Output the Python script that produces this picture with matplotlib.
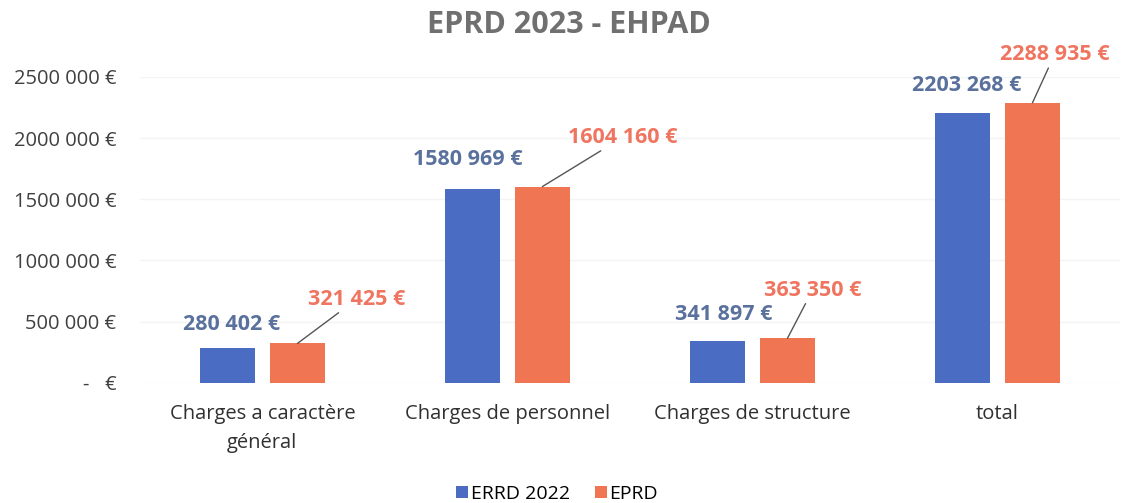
import numpy as np
import matplotlib
matplotlib.use("Agg")
import matplotlib.pyplot as plt

categories = ["Charges a caractère\ngénéral", "Charges de personnel",
              "Charges de structure", "total"]
errd_2022 = [280402, 1580969, 341897, 2203268]
eprd = [321425, 1604160, 363350, 2288935]
series_names = ["ERRD 2022", "EPRD"]

# label offsets in pixels (dx, dy) from bar top
blue_off = [(4, 24), (-5, 30), (6, 26), (4, 28)]
orange_off = [(59, 44), (80, 49), (25, 48), (22, 48)]


def euro(v):
    if v == 0:
        return "-   €"
    s = f"{int(v):,}".replace(",", " ")
    # Excel style: no space in the millions group
    parts = s.split(" ")
    if len(parts) == 3:
        s = parts[0] + parts[1] + " " + parts[2]
    return s + " €"


plt.rcParams["font.family"] = ["Open Sans", "DejaVu Sans"]

fig = plt.figure(figsize=(11.37, 5.03), dpi=100)
ax = fig.add_axes([0.123, 0.239, 0.862, 0.608])

blue = "#4a6cc2"
orange = "#f07552"
x = np.arange(len(categories))
w = 0.225
off = 0.143

ax.bar(x - off, errd_2022, w, color=blue, label=series_names[0], zorder=2)
ax.bar(x + off, eprd, w, color=orange, label=series_names[1], zorder=2)

for i in range(len(categories)):
    ax.annotate(euro(errd_2022[i]), xy=(x[i] - off, errd_2022[i]),
                xytext=blue_off[i], textcoords="offset pixels",
                ha="center", va="center", fontsize=15.5, fontweight="bold",
                color="#5a719e")
    ax.annotate(euro(eprd[i]), xy=(x[i] + off, eprd[i]),
                xytext=orange_off[i], textcoords="offset pixels",
                ha="center", va="center", fontsize=15.5, fontweight="bold",
                color="#f07560",
                arrowprops=dict(arrowstyle="-", color="#555555", lw=1,
                                shrinkA=0, shrinkB=0))

ax.set_xlim(-0.5, len(categories) - 0.5)
ax.set_ylim(0, 2500000)
ticks = np.arange(0, 2500001, 500000)
ax.set_yticks(ticks)
ax.set_yticklabels([euro(t) for t in ticks], fontsize=14.5, color="#404040")
ax.set_xticks(x)
ax.set_xticklabels(categories, fontsize=14.5, color="#303030",
                   linespacing=1.6)
ax.tick_params(axis="y", length=0, pad=17)
ax.tick_params(axis="x", length=0, pad=15)
ax.grid(axis="y", color="#f4f4f4", lw=1, zorder=0)
for s in ax.spines.values():
    s.set_visible(False)

fig.suptitle("EPRD 2023 - EHPAD", x=0.5, y=0.98, fontsize=22,
             fontweight="bold", color="#707070")
fig.legend(loc="lower center", bbox_to_anchor=(0.49, -0.035), ncol=2,
           frameon=False, fontsize=14, handlelength=0.6, handleheight=0.6,
           handletextpad=0.15, columnspacing=1.3)

fig.savefig("out.png", dpi=100, facecolor="white")
